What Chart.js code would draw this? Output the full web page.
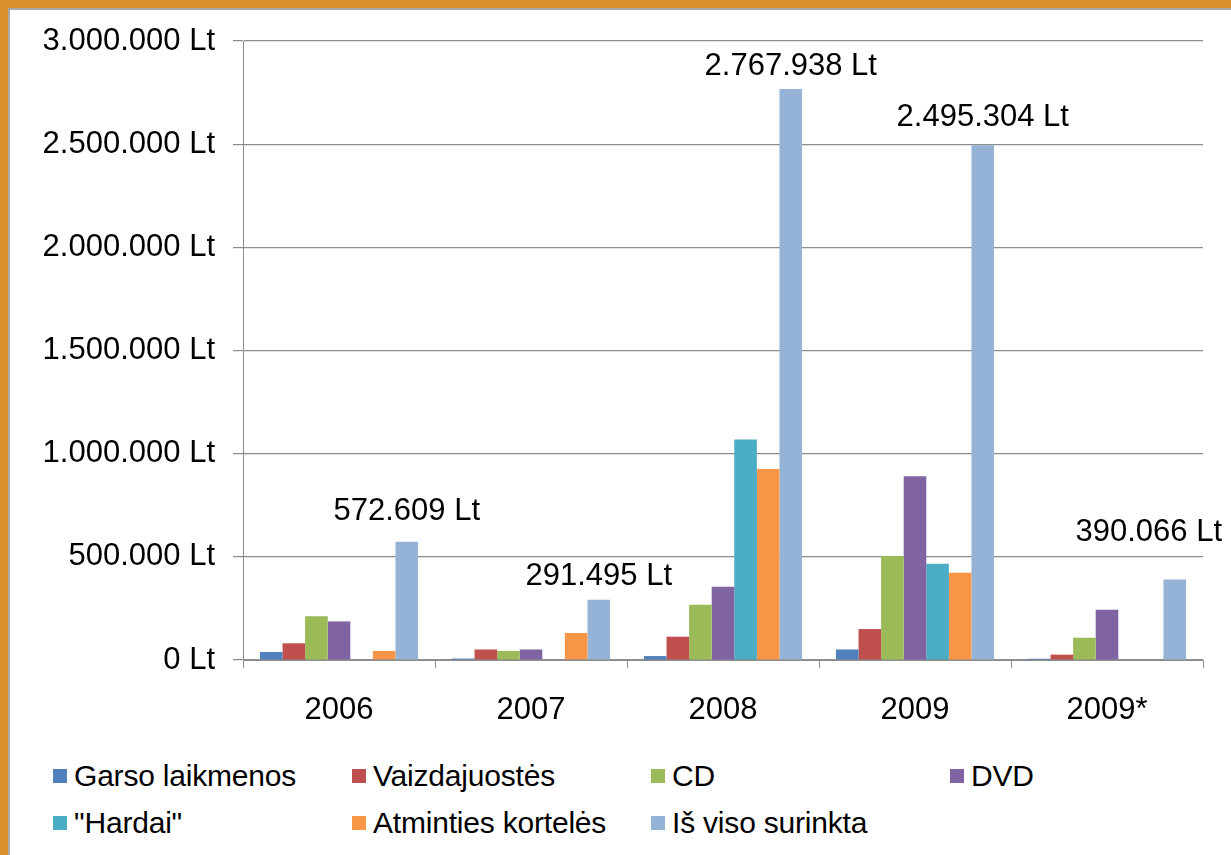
<!DOCTYPE html>
<html>
<head>
<meta charset="utf-8">
<script src="https://cdn.jsdelivr.net/npm/chart.js@4"></script>
<style>
  body { margin: 0; width: 1231px; height: 855px; background: #d9912f; overflow: hidden; font-family: "Liberation Sans", Arial, sans-serif; }
  #panel { position: absolute; left: 8px; top: 8px; right: 0; bottom: 0; background: #fff; border-left: 2px solid #a9a9a9; border-top: 2px solid #a9a9a9; }
  #chart { position: absolute; left: 0; top: 0; }
  #legend { position: absolute; left: 53px; top: 759px; }
  .item { position: absolute; display: flex; align-items: center; font-size: 30px; color: #000; white-space: nowrap; letter-spacing: -0.2px; }
  .box { width: 14px; height: 14px; margin-right: 7px; }
</style>
</head>
<body>
<div id="panel"></div>
<canvas id="chart" width="1231" height="740"></canvas>
<div id="legend"></div>
<script>
const years = ['2006', '2007', '2008', '2009', '2009*'];
const seriesNames = ['Garso laikmenos', 'Vaizdajuostės', 'CD', 'DVD', '"Hardai"', 'Atminties kortelės', 'Iš viso surinkta'];
const garso = [39000, 7000, 19000, 51000, 6000];
const vaizdajuostes = [81000, 51000, 113000, 150000, 26000];
const cd = [212000, 44000, 268000, 504000, 108000];
const dvd = [187000, 51000, 355000, 890000, 244000];
const hardai = [0, 0, 1069000, 467000, 0];
const atminties = [44000, 131000, 926000, 423000, 0];
const isViso = [572609, 291495, 2767938, 2495304, 390066];
const yTicks = [0, 500000, 1000000, 1500000, 2000000, 2500000, 3000000];

const colors = ['#4f81bd', '#c0504d', '#9bbb59', '#8064a2', '#4bacc6', '#f79646', '#95b3d7'];
const allValues = [garso, vaizdajuostes, cd, dvd, hardai, atminties, isViso];
// how far above the bar each total label sits (px), as placed in the original
const labelLift = [30, 23, 22, 28, 47];

function fmt(v) {
    return String(v).replace(/\B(?=(\d{3})+(?!\d))/g, '.');
}

// labels above the totals
const totalLabels = {
    id: 'totalLabels',
    afterDatasetsDraw(chart) {
        const ctx = chart.ctx;
        const meta = chart.getDatasetMeta(6);
        ctx.save();
        ctx.font = '31px "Liberation Sans", Arial, sans-serif';
        ctx.fillStyle = '#000';
        ctx.textAlign = 'center';
        ctx.textBaseline = 'middle';
        meta.data.forEach((bar, i) => {
            const text = fmt(isViso[i]) + ' Lt';
            const w = ctx.measureText(text).width;
            let x = bar.x;
            if (x + w / 2 > 1222) x = 1222 - w / 2;
            ctx.fillText(text, x, bar.y - labelLift[i]);
        });
        ctx.restore();
    }
};

const gridColor = '#8c8c8c';

new Chart(document.getElementById('chart').getContext('2d'), {
    type: 'bar',
    data: {
        labels: years,
        datasets: seriesNames.map((name, i) => ({
            label: name,
            data: allValues[i],
            backgroundColor: colors[i],
            borderWidth: 0,
            categoryPercentage: 7 / 8.5,
            barPercentage: 1
        }))
    },
    options: {
        responsive: false,
        animation: false,
        layout: { padding: { top: 41, right: 28, left: 0, bottom: 0 } },
        plugins: {
            legend: { display: false },
            tooltip: { enabled: false }
        },
        scales: {
            x: {
                afterFit: s => { s.height = 80; },
                grid: { offset: true, drawOnChartArea: false, tickLength: 8, color: gridColor },
                border: { color: gridColor },
                ticks: { color: '#000', font: { size: 31, family: '"Liberation Sans", Arial' }, padding: 24 }
            },
            y: {
                min: 0,
                max: 3000000,
                afterFit: s => { s.width = 243; },
                afterBuildTicks: s => { s.ticks = yTicks.map(v => ({ value: v })); },
                grid: { color: gridColor, tickLength: 10, lineWidth: 1.2 },
                border: { color: gridColor },
                ticks: {
                    color: '#000',
                    padding: 18,
                    font: { size: 31, family: '"Liberation Sans", Arial' },
                    callback: v => fmt(v) + ' Lt'
                }
            }
        }
    },
    plugins: [totalLabels]
});

// legend in fixed columns, like the original
const legend = document.getElementById('legend');
seriesNames.forEach((name, i) => {
    const item = document.createElement('div');
    item.className = 'item';
    item.style.left = (i % 4) * 299 + 'px';
    item.style.top = Math.floor(i / 4) * 47 + 'px';
    item.innerHTML = '<span class="box" style="background:' + colors[i] + '"></span>';
    item.appendChild(document.createTextNode(name));
    legend.appendChild(item);
});
</script>
</body>
</html>
